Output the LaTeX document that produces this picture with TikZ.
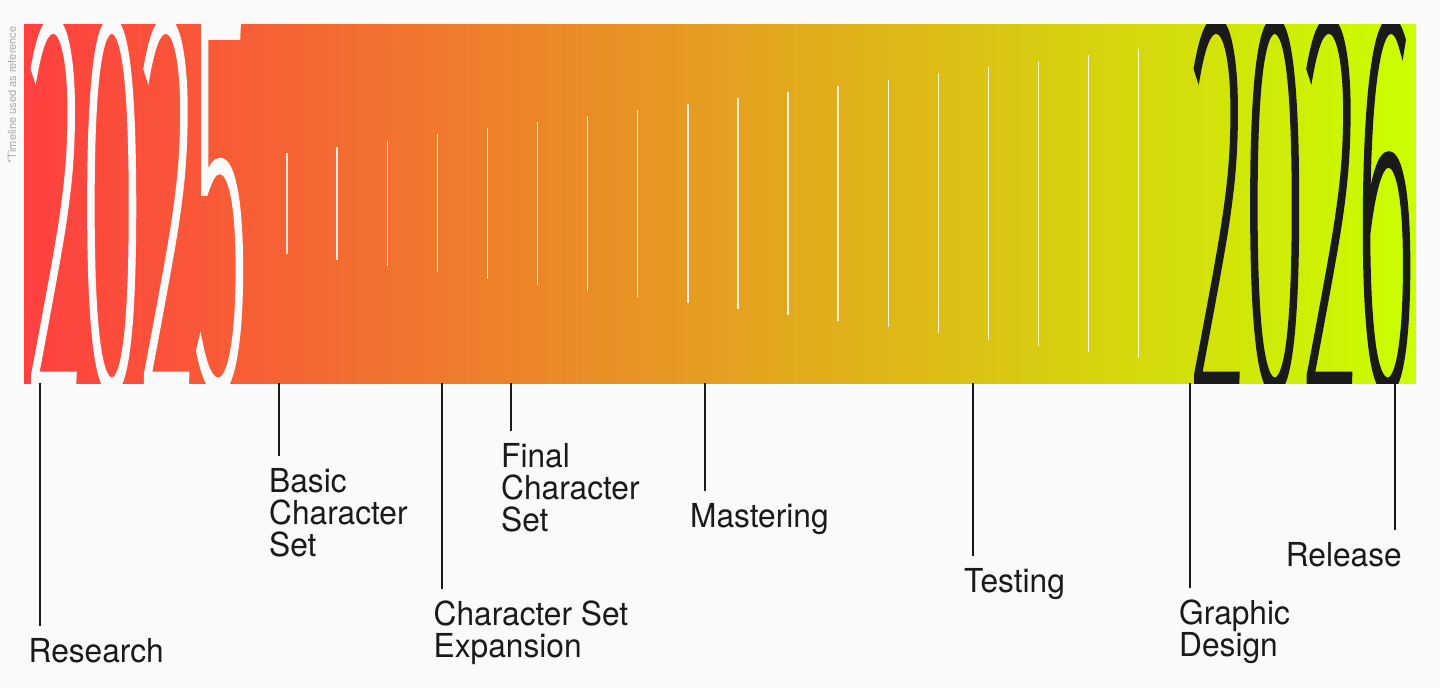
\documentclass[tikz,border=0pt]{standalone}
\usepackage{fontspec}
\setmainfont{TeX Gyre Heros}[FakeStretch=0.96]
\IfFontExistsTF{Fira Sans Hair}{\newfontfamily\yearfont{Fira Sans Hair}[FakeStretch=0.209,FakeBold=1.4]}{%
  \IfFontExistsTF{Fira Sans Thin}{\newfontfamily\yearfont{Fira Sans Thin}[FakeStretch=0.209,FakeBold=0.9]}{%
    \IfFontExistsTF{Fira Sans Light}{\newfontfamily\yearfont{Fira Sans Light}[FakeStretch=0.209,FakeBold=0.4]}{%
      \newfontfamily\yearfont{Fira Sans}[FakeStretch=0.209]}}}

\definecolor{paper}{HTML}{FAFAFA}
\definecolor{ink}{HTML}{1A1A1A}
\definecolor{barred}{HTML}{FF4040}
\definecolor{barorange}{HTML}{EA9A26}
\definecolor{barlime}{HTML}{CAFF00}
\definecolor{notegray}{HTML}{ABABAB}

\begin{document}
\begin{tikzpicture}[
    x=1pt, y=-1pt,
    year/.style = {font=\yearfont\fontsize{544}{544}\selectfont, inner sep=0pt, anchor=base west},
    event/.style = {font=\fontsize{33}{32}\selectfont, text=ink, inner sep=0pt, anchor=north west, align=left},
    leader/.style = {draw=ink, line width=2pt, shorten >=12pt},
    tick/.style = {draw=white, line width=1.4pt, opacity=0.85},
    note/.style = {font=\fontsize{11.5}{12}\selectfont, text=notegray, rotate=90, inner sep=0pt}
  ]
  \useasboundingbox (0,0) rectangle (1440,688);
  \fill[paper] (0,0) rectangle (1440,688);

  % the year bar
  \shade[left color=barred, middle color=barorange, right color=barlime] (24,24) rectangle (1416,383);
  \begin{scope}
    \clip (24,24) rectangle (1416,383);
    \node[year, text=paper] (y2025) at (28,386) {2025};
    \node[year, text=ink, anchor=base east] (y2026) at (1415,386) {2026};
  \end{scope}
  \foreach \i in {0,...,17}
    \draw[tick] ({287+50.1*\i},{152.7-6.1*\i}) -- ({287+50.1*\i},{254.1+6.1*\i});

  \node[note] (note) at (12,95) {*Timeline used as reference};

  % events
  \coordinate (t1) at (40,383);
  \coordinate (t2) at (279,383);
  \coordinate (t3) at (441.5,383);
  \coordinate (t4) at (510.7,383);
  \coordinate (t5) at (705,383);
  \coordinate (t6) at (972.5,383);
  \coordinate (t7) at (1190,383);
  \coordinate (t8) at (1395,383);

  \node[event] (research) at (28.5,638) {Research};
  \node[event] (basic) at (269,468) {Basic\\Character\\Set};
  \node[event] (expansion) at (433.5,601) {Character Set\\Expansion};
  \node[event] (final) at (501,443) {Final\\Character\\Set};
  \node[event] (mastering) at (690,503) {Mastering};
  \node[event] (testing) at (964,568) {Testing};
  \node[event] (graphic) at (1179,600) {Graphic\\Design};
  \node[event, anchor=north east] (release) at (1402,542) {Release};

  \draw[leader] (t1) -- (research.north -| t1);
  \draw[leader] (t2) -- (basic.north -| t2);
  \draw[leader] (t3) -- (expansion.north -| t3);
  \draw[leader] (t4) -- (final.north -| t4);
  \draw[leader] (t5) -- (mastering.north -| t5);
  \draw[leader] (t6) -- (testing.north -| t6);
  \draw[leader] (t7) -- (graphic.north -| t7);
  \draw[leader] (t8) -- (release.north -| t8);
\end{tikzpicture}
\end{document}
